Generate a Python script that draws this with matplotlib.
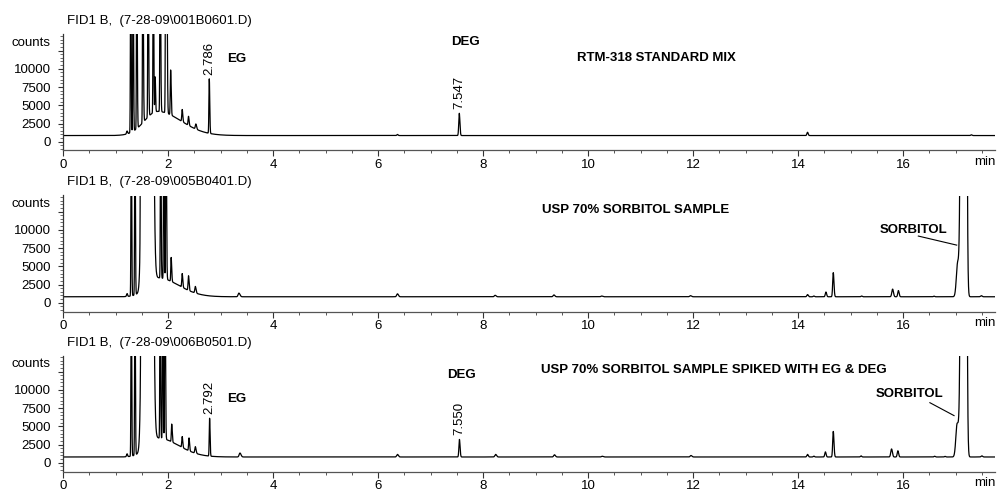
import numpy as np
import matplotlib
matplotlib.use("Agg")
import matplotlib.pyplot as plt
from matplotlib.ticker import MultipleLocator, FixedLocator, NullFormatter
import matplotlib.transforms as mtransforms

plt.rcParams['font.family'] = ['Liberation Sans', 'DejaVu Sans']

# ---------------- run information ----------------
headers = [r"FID1 B,  (7-28-09\001B0601.D)",
           r"FID1 B,  (7-28-09\005B0401.D)",
           r"FID1 B,  (7-28-09\006B0501.D)"]
sample_names = ["RTM-318 STANDARD MIX",
                "USP 70% SORBITOL SAMPLE",
                "USP 70% SORBITOL SAMPLE SPIKED WITH EG & DEG"]
baseline_counts = [850, 820, 790]

# ---------------- peak tables ----------------
# retention time (min), height above baseline (counts),
# leading and tailing widths (min)
std_rt = [1.22, 1.29, 1.335, 1.405, 1.52, 1.62, 1.72, 1.755, 1.80, 1.85, 1.955, 1.975,
          2.05, 2.27, 2.39, 2.53, 2.786, 6.37, 7.547, 14.18, 17.30]
std_height = [400, 25000, 25000, 25000, 25000, 25000, 25000, 4800, 3300, 25000, 25000, 25000,
              6160, 1665, 1240, 700, 7470, 150, 3050, 450, 100]
std_lead = [0.010, 0.006, 0.006, 0.006, 0.006, 0.006, 0.006, 0.006, 0.25, 0.006, 0.006, 0.006,
            0.007, 0.008, 0.008, 0.010, 0.007, 0.012, 0.010, 0.012, 0.012]
std_tail = [0.010, 0.008, 0.008, 0.009, 0.010, 0.010, 0.008, 0.008, 0.45, 0.010, 0.008, 0.010,
            0.010, 0.011, 0.011, 0.014, 0.009, 0.012, 0.012, 0.012, 0.012]

smp_rt = [1.22, 1.30, 1.37, 1.48, 1.61, 1.80, 1.86, 1.92, 1.96, 2.06, 2.27, 2.39, 2.52,
          3.35, 6.37, 8.23, 9.35, 10.26, 11.95, 14.18, 14.30, 14.53, 14.67, 15.21,
          15.80, 15.91, 16.59, 17.04, 17.16, 17.49]
smp_height = [400, 25000, 25000, 25000, 950000, 2600, 25000, 25000, 25000, 3280, 1875, 2000, 900,
              500, 400, 200, 250, 100, 150, 300, 100, 650, 3300, 100,
              1050, 850, 80, 4700, 516000, 150]
smp_lead = [0.010, 0.006, 0.006, 0.006, 0.045, 0.20, 0.006, 0.006, 0.006, 0.007, 0.008, 0.008, 0.010,
            0.015, 0.015, 0.015, 0.015, 0.015, 0.015, 0.013, 0.012, 0.012, 0.011, 0.012,
            0.015, 0.012, 0.012, 0.025, 0.030, 0.015]
smp_tail = [0.010, 0.008, 0.008, 0.008, 0.045, 0.40, 0.008, 0.008, 0.010, 0.010, 0.011, 0.011, 0.014,
            0.020, 0.018, 0.018, 0.018, 0.018, 0.018, 0.014, 0.012, 0.013, 0.013, 0.012,
            0.016, 0.014, 0.012, 0.050, 0.025, 0.015]

spk_rt = [1.22, 1.30, 1.37, 1.49, 1.61, 1.80, 1.85, 1.90, 1.94, 2.07, 2.27, 2.40, 2.52, 2.792,
          3.37, 6.37, 7.550, 8.24, 9.36, 10.27, 11.96, 14.18, 14.30, 14.52, 14.67, 15.20,
          15.78, 15.90, 16.60, 16.80, 17.03, 17.16, 17.50]
spk_height = [400, 25000, 25000, 25000, 950000, 2600, 25000, 25000, 25000, 2440, 1500, 1765, 900, 5190,
              540, 350, 2410, 350, 300, 100, 200, 350, 120, 700, 3500, 150,
              1100, 850, 100, 80, 4600, 516000, 150]
spk_lead = [0.010, 0.006, 0.006, 0.006, 0.045, 0.20, 0.006, 0.006, 0.006, 0.007, 0.008, 0.008, 0.010, 0.007,
            0.015, 0.015, 0.010, 0.015, 0.015, 0.015, 0.015, 0.013, 0.012, 0.012, 0.011, 0.012,
            0.015, 0.012, 0.012, 0.012, 0.025, 0.030, 0.015]
spk_tail = [0.010, 0.008, 0.008, 0.008, 0.045, 0.40, 0.008, 0.008, 0.010, 0.010, 0.011, 0.011, 0.014, 0.009,
            0.020, 0.018, 0.012, 0.018, 0.018, 0.018, 0.018, 0.014, 0.012, 0.013, 0.013, 0.012,
            0.016, 0.014, 0.012, 0.012, 0.050, 0.025, 0.015]

# labelled peaks: (run index, retention time, compound name, name position (min, counts))
labelled_rt = [(0, 2.786), (0, 7.547), (2, 2.792), (2, 7.550)]
compound_labels = [(0, "EG", 3.30, 11330), (0, "DEG", 7.66, 13660),
                   (2, "EG", 3.30, 8730), (2, "DEG", 7.58, 12020)]
sorbitol_labels = [(1, 16.19, 9960, (16.29, 9140), (17.02, 7900)),
                   (2, 16.13, 9420, (16.51, 8230), (16.97, 6460))]
sample_name_pos = [(11.31, 11470), (10.90, 12700), (12.40, 12700)]

peak_tables = [(std_rt, std_height, std_lead, std_tail),
               (smp_rt, smp_height, smp_lead, smp_tail),
               (spk_rt, spk_height, spk_lead, spk_tail)]

t = np.linspace(0.0, 17.75, 20000)


def trace(base, rts, heights, leads, tails):
    y = np.full_like(t, float(base))
    for rt, h, wl, wr in zip(rts, heights, leads, tails):
        w = np.where(t < rt, wl, wr)
        y += h * np.exp(-0.5 * ((t - rt) / w) ** 2)
    return y


def peak_value(run, rt):
    rts, hs, wls, wrs = peak_tables[run]
    y = trace(baseline_counts[run], rts, hs, wls, wrs)
    return np.interp(rt, t, y)


FS = 9.5
fig = plt.figure(figsize=(9.98, 4.94), dpi=100)
W, H = 998.0, 494.0
ax_left, ax_width = 63 / W, 932 / W
ax_bottoms_px = [150.5, 311.5, 471.5]
ax_h = 116 / H
header_y_px = [21, 182, 343]

axes = []
for i in range(3):
    ax = fig.add_axes([ax_left, 1 - ax_bottoms_px[i] / H, ax_width, ax_h])
    axes.append(ax)
    rts, hs, wls, wrs = peak_tables[i]
    y = trace(baseline_counts[i], rts, hs, wls, wrs)
    ax.plot(t, y, color='black', lw=0.9)
    ax.set_xlim(0, 17.75)
    ax.set_ylim(-1200, 14700)

    for s in ('top', 'right'):
        ax.spines[s].set_visible(False)
    ax.spines['left'].set_color('#333333')
    ax.spines['bottom'].set_color('#555555')
    ax.spines['left'].set_linewidth(0.9)
    ax.spines['bottom'].set_linewidth(0.9)

    ax.xaxis.set_major_locator(MultipleLocator(2))
    ax.xaxis.set_minor_locator(MultipleLocator(0.5))
    ax.yaxis.set_major_locator(FixedLocator([0, 2500, 5000, 7500, 10000, 12500]))
    ax.yaxis.set_minor_locator(MultipleLocator(500))
    ax.set_yticklabels(["0", "2500", "5000", "7500", "10000", ""])
    ax.set_xticks(np.arange(0, 17, 2))
    ax.set_xticklabels([str(v) for v in range(0, 17, 2)])
    ax.tick_params(axis='x', which='major', length=4.5, width=0.8, pad=1.5,
                   labelsize=FS, color='#333333')
    ax.tick_params(axis='x', which='minor', length=2.5, width=0.7, color='#555555')
    ax.tick_params(axis='y', which='major', length=3.5, width=0.8, pad=5.5,
                   labelsize=FS, color='#333333')
    ax.tick_params(axis='y', which='minor', length=2.0, width=0.6, color='#555555')

    ax.text(-0.0139, 13500, "counts", transform=mtransforms.blended_transform_factory(
        ax.transAxes, ax.transData), ha='right', va='center', fontsize=FS)
    ax.text(17.56, -0.045, "min", transform=mtransforms.blended_transform_factory(
        ax.transData, ax.transAxes), ha='center', va='top', fontsize=FS)

    fig.text(67 / W, 1 - header_y_px[i] / H, headers[i], ha='left', va='center', fontsize=FS)
    nx, ny = sample_name_pos[i]
    ax.text(nx, ny, sample_names[i], ha='center', va='center', fontsize=FS, fontweight='bold')

for run, rt in labelled_rt:
    top = peak_value(run, rt)
    axes[run].annotate(f"{rt:.3f}", xy=(rt, top), xytext=(0, 3), textcoords='offset points',
                       rotation=90, ha='center', va='bottom', fontsize=FS)

for run, name, x, y in compound_labels:
    axes[run].text(x, y, name, ha='center', va='center', fontsize=FS, fontweight='bold')

for run, x, y, p0, p1 in sorbitol_labels:
    axes[run].text(x, y, "SORBITOL", ha='center', va='center', fontsize=FS, fontweight='bold')
    axes[run].plot([p0[0], p1[0]], [p0[1], p1[1]], color='black', lw=0.8)

fig.savefig("out.png", dpi=100, facecolor='white')
